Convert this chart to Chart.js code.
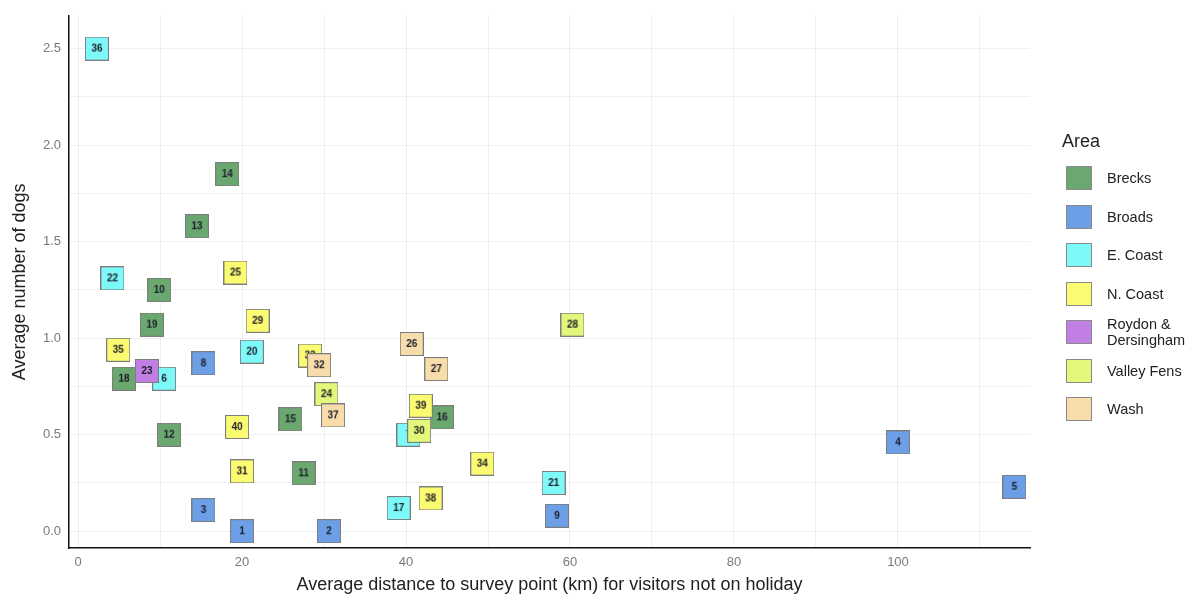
<!DOCTYPE html>
<html>
<head>
<meta charset="utf-8">
<script src="https://cdn.jsdelivr.net/npm/chart.js@4.4.1/dist/chart.umd.min.js"></script>
<style>
  body { margin: 0; background: #fff; font-family: "Liberation Sans", Arial, sans-serif; }
  #wrap { position: relative; width: 1194px; height: 599px; }
  #legend { position: absolute; left: 1062px; top: 131px; color: #222; }
  #legend .title { font-size: 18px; }
  #legend .item { position: absolute; left: 4px; height: 24px; width: 130px; }
  #legend .key { position: absolute; left: 0; top: 0; width: 26px; height: 24px; box-sizing: border-box; border: 1px solid #8a8a8a; }
  #legend .lab { position: absolute; left: 41px; font-size: 14.5px; line-height: 16px; }
</style>
</head>
<body>
<div id="wrap">
  <canvas id="c" width="1194" height="599"></canvas>
  <div id="legend"><div class="title">Area</div></div>
</div>
<script>
// areas and their fill colours
const areas = ['Brecks', 'Broads', 'E. Coast', 'N. Coast', 'Roydon & Dersingham', 'Valley Fens', 'Wash'];
const areaColors = ['#6aa86f', '#6c9fe6', '#7df9f9', '#fbfb72', '#c17fe6', '#e3f77a', '#f8dcaa'];

// survey sites (drawn in this order)
const siteIds = [1, 2, 3, 4, 5, 6, 7, 8, 9, 10, 11, 12, 13, 14, 15, 16, 17, 18, 19, 20,
  21, 22, 23, 24, 25, 26, 27, 28, 29, 30, 31, 33, 32, 34, 35, 36, 37, 38, 39, 40];
const distKm = [20.0, 30.6, 15.3, 100.0, 114.2, 10.5, 40.3, 15.3, 58.4, 9.9, 27.5, 11.1, 14.5, 18.2, 25.9, 44.4, 39.1, 5.6, 9.0, 21.2,
  58.0, 4.2, 8.4, 30.3, 19.2, 40.7, 43.7, 60.3, 21.9, 41.6, 20.0, 28.3, 29.4, 49.3, 4.9, 2.3, 31.1, 43.0, 41.8, 19.4];
const dogs = [0.00, 0.00, 0.11, 0.46, 0.23, 0.79, 0.50, 0.87, 0.08, 1.25, 0.30, 0.50, 1.58, 1.85, 0.58, 0.59, 0.12, 0.79, 1.07, 0.93,
  0.25, 1.31, 0.83, 0.71, 1.34, 0.97, 0.84, 1.07, 1.09, 0.52, 0.31, 0.91, 0.86, 0.35, 0.94, 2.50, 0.60, 0.17, 0.65, 0.54];
const siteArea = ['Broads', 'Broads', 'Broads', 'Broads', 'Broads', 'E. Coast', 'E. Coast', 'Broads', 'Broads', 'Brecks',
  'Brecks', 'Brecks', 'Brecks', 'Brecks', 'Brecks', 'Brecks', 'E. Coast', 'Brecks', 'Brecks', 'E. Coast',
  'E. Coast', 'E. Coast', 'Roydon & Dersingham', 'Valley Fens', 'N. Coast', 'Wash', 'Wash', 'Valley Fens', 'N. Coast', 'Valley Fens',
  'N. Coast', 'N. Coast', 'Wash', 'N. Coast', 'N. Coast', 'E. Coast', 'Wash', 'N. Coast', 'N. Coast', 'N. Coast'];

const xTicks = [0, 20, 40, 60, 80, 100];
const yTicks = [0, 0.5, 1, 1.5, 2, 2.5];

const colorOf = a => areaColors[areas.indexOf(a)];

// each marker is a small square with its site number
function marker(id, fill) {
  const s = 24;
  const cv = document.createElement('canvas');
  cv.width = s; cv.height = s;
  const g = cv.getContext('2d');
  g.fillStyle = fill;
  g.fillRect(0, 0, s, s);
  g.strokeStyle = '#7d7d7d';
  g.lineWidth = 1;
  g.strokeRect(0.5, 0.5, s - 1, s - 1);
  g.fillStyle = '#1e1e2a';
  g.font = 'bold 10px "Liberation Sans", Arial, sans-serif';
  g.textAlign = 'center';
  g.textBaseline = 'middle';
  g.fillText(String(id), s / 2, s / 2 + 0.5);
  return cv;
}

const points = siteIds.map((id, i) => ({ x: distKm[i], y: dogs[i] }));
const styles = siteIds.map((id, i) => marker(id, colorOf(siteArea[i])));

const grid = { color: 'rgba(0,0,0,0.06)', drawTicks: false };

new Chart(document.getElementById('c'), {
  type: 'scatter',
  data: {
    datasets: [{
      data: points,
      pointStyle: styles,
      pointRadius: 12,
      pointHoverRadius: 12
    }]
  },
  options: {
    responsive: false,
    animation: false,
    layout: { padding: { top: 10, right: 164, left: 0, bottom: 0 } },
    plugins: { legend: { display: false }, tooltip: { enabled: false } },
    scales: {
      x: {
        type: 'linear', min: -1.1, max: 116.1,
        grid: grid,
        border: { display: true, color: '#111', width: 1.5 },
        ticks: {
          stepSize: 10, includeBounds: false, padding: 7,
          color: '#7a7a7a', font: { size: 13, family: '"Liberation Sans", Arial' },
          maxRotation: 0, autoSkip: false,
          callback: v => xTicks.includes(v) ? String(v) : ''
        },
        title: {
          display: true, text: 'Average distance to survey point (km) for visitors not on holiday',
          color: '#222', font: { size: 18, family: '"Liberation Sans", Arial' },
          padding: { top: 0, bottom: 3 }
        },
        afterFit: s => { s.height = 51; }
      },
      y: {
        type: 'linear', min: -0.087, max: 2.67,
        grid: grid,
        border: { display: true, color: '#111', width: 1.5 },
        ticks: {
          stepSize: 0.25, includeBounds: false, padding: 8,
          color: '#7a7a7a', font: { size: 13, family: '"Liberation Sans", Arial' },
          autoSkip: false,
          callback: v => yTicks.includes(v) ? v.toFixed(1) : ''
        },
        title: {
          display: true, text: 'Average number of dogs',
          color: '#222', font: { size: 18, family: '"Liberation Sans", Arial' },
          padding: { top: 9, bottom: 0 }
        },
        afterFit: s => { s.width = 69; }
      }
    }
  }
});

// legend
const leg = document.getElementById('legend');
areas.forEach((a, i) => {
  const it = document.createElement('div');
  it.className = 'item';
  it.style.top = (35 + i * 38.5) + 'px';
  const key = document.createElement('div');
  key.className = 'key';
  key.style.background = areaColors[i];
  const lab = document.createElement('div');
  lab.className = 'lab';
  if (a === 'Roydon & Dersingham') {
    lab.innerHTML = 'Roydon &amp;<br>Dersingham';
    lab.style.top = '-4px';
  } else {
    lab.textContent = a;
    lab.style.top = '4px';
  }
  it.appendChild(key);
  it.appendChild(lab);
  leg.appendChild(it);
});
</script>
</body>
</html>
